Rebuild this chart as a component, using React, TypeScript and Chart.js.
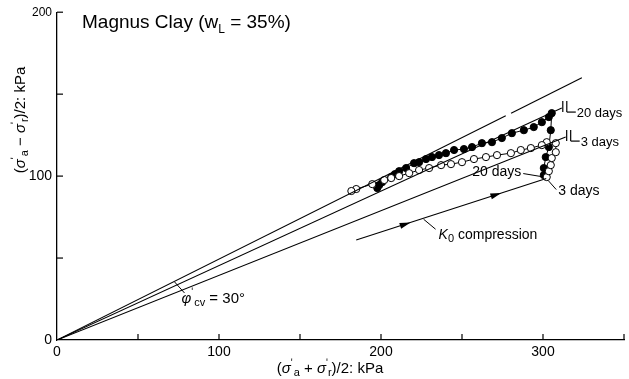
import { useEffect, useRef } from 'react';
import { Chart, registerables } from 'chart.js';
Chart.register(...registerables);

// ---- axis ticks ----
const X_TICKS = [0, 50, 100, 150, 200, 250, 300, 350];
const X_LABELED = [0, 100, 200, 300];
const Y_TICKS = [0, 50, 100, 150, 200];
const Y_LABELED = [0, 100, 200];

// ---- reference lines (s' , t) in kPa ----
const phiLine1S = [0, 277];
const phiLine1T = [0, 136.8];
const phiLine2S = [280.3, 324];
const phiLine2T = [138.4, 160];
const line20S = [0, 311.6];
const line20T = [0, 141.5];
const line3S = [0, 314];
const line3T = [0, 123.8];
const k0S = [184.7, 302];
const k0T = [61, 98.5];

// ---- stress paths ----
const days20S = [300.5, 300.5, 301.7, 303.6, 304.8, 305.4, 303.6, 299.3, 294.3, 288.2, 280.8, 274.6, 268.5, 262.3, 256.2, 251.2, 245.1, 240.1, 235.8, 231.5, 227.8, 223.5, 220.4, 215.5, 211.2, 208.6, 206.3, 200.7, 198.9, 197.7];
const days20T = [100.6, 104.9, 111.6, 117.7, 128.0, 138.4, 136.0, 132.9, 129.9, 128.0, 126.2, 123.2, 120.7, 120.1, 117.7, 116.5, 115.9, 114.0, 112.8, 111.6, 110.4, 108.5, 107.9, 104.9, 103.0, 101.2, 99.4, 96.3, 94.5, 92.7];
const days3S = [302.3, 303.6, 304.8, 305.4, 307.9, 307.9, 302.3, 299.3, 292.5, 286.3, 280.2, 271.6, 264.8, 257.4, 250.0, 243.2, 237.1, 229.7, 223.5, 217.4, 211.2, 206.3, 202.0, 194.6, 184.7, 181.7];
const days3T = [99.4, 103.0, 106.7, 111.0, 114.6, 120.1, 120.7, 118.9, 117.1, 115.9, 114.0, 112.8, 111.6, 110.4, 108.5, 107.3, 106.7, 104.9, 103.7, 101.8, 100.0, 98.8, 97.6, 95.1, 92.1, 90.9];

// ---- annotation anchors (data units) ----
const phiTickS = [72.6, 78.7];
const phiTickT = [35.4, 28.7];
const k0ArrowS = [218.3, 274.3];
const k0LabelS = 226.3;

const FONT = '"Liberation Sans", Arial, Helvetica, sans-serif';

const pts = (xs: number[], ys: number[]) => xs.map((x, i) => ({ x, y: ys[i] }));

type Seg = { t: string; size: number; dy?: number; dx?: number; italic?: boolean };

function drawRich(ctx: CanvasRenderingContext2D, segs: Seg[], x: number, y: number, align: 'left' | 'center' | 'right') {
  const fontOf = (s: Seg) => `${s.italic ? 'italic ' : ''}${s.size}px ${FONT}`;
  let w = 0;
  segs.forEach((s) => {
    ctx.font = fontOf(s);
    w += ctx.measureText(s.t).width + (s.dx || 0);
  });
  let cx = align === 'center' ? x - w / 2 : align === 'right' ? x - w : x;
  ctx.textAlign = 'left';
  ctx.textBaseline = 'alphabetic';
  segs.forEach((s) => {
    ctx.font = fontOf(s);
    cx += s.dx || 0;
    ctx.fillText(s.t, cx, y + (s.dy || 0));
    cx += ctx.measureText(s.t).width;
  });
}

const axisTitle = (op: string): Seg[] => [
  { t: '(', size: 15 },
  { t: 'σ', size: 15, italic: true },
  { t: 'ʹ', size: 10, dy: -7 },
  { t: 'a', size: 11, dy: 3, dx: 1 },
  { t: ` ${op} `, size: 15 },
  { t: 'σ', size: 15, italic: true },
  { t: 'ʹ', size: 10, dy: -7 },
  { t: 'r', size: 11, dy: 3 },
  { t: ')/2: kPa', size: 15 },
];

const annotPlugin = {
  id: 'annot',
  afterDraw(chart: any) {
    const { ctx, chartArea: a, scales } = chart;
    const X = (v: number) => scales.x.getPixelForValue(v);
    const Y = (v: number) => scales.y.getPixelForValue(v);
    const seg = (x1: number, y1: number, x2: number, y2: number) => {
      ctx.beginPath();
      ctx.moveTo(x1, y1);
      ctx.lineTo(x2, y2);
      ctx.stroke();
    };
    ctx.save();
    ctx.strokeStyle = '#000';
    ctx.fillStyle = '#000';
    ctx.lineWidth = 1.2;

    // inward ticks
    X_TICKS.forEach((v) => {
      if (v !== 0) seg(X(v), a.bottom, X(v), a.bottom - 6);
    });
    Y_TICKS.forEach((v) => {
      if (v !== 0) seg(a.left, Y(v), a.left + 6, Y(v));
    });

    // title
    drawRich(ctx, [
      { t: 'Magnus Clay (w', size: 19 },
      { t: 'L', size: 12, dy: 5 },
      { t: ' = 35%)', size: 19 },
    ], a.left + 25, 28, 'left');

    // axis titles
    drawRich(ctx, axisTitle('+'), 330, 373, 'center');

    ctx.save();
    ctx.translate(25, 120);
    ctx.rotate(-Math.PI / 2);
    drawRich(ctx, axisTitle('−'), 0, 0, 'center');
    ctx.restore();

    // break marks + labels at ends of the two lines
    const breakMark = (s: number, t: number, label: string) => {
      const px = X(s);
      const py = Y(t);
      seg(px + 1, py - 7, px + 1, py + 4);
      seg(px + 5, py - 7, px + 5, py + 4);
      seg(px + 5, py + 4, px + 14, py + 4);
      ctx.font = `13px ${FONT}`;
      ctx.textAlign = 'left';
      ctx.textBaseline = 'middle';
      ctx.fillText(label, px + 15, py + 5);
    };
    breakMark(line20S[1], line20T[1], '20 days');
    breakMark(line3S[1], line3T[1], '3 days');

    // labels at start of undrained paths
    const ex = X(k0S[1]);
    const ey = Y(k0T[1]);
    ctx.lineWidth = 1;
    seg(ex - 23, ey - 5, ex - 5, ey - 2);
    seg(ex + 2, ey + 2, ex + 10, ey + 11);
    ctx.font = `14px ${FONT}`;
    ctx.textBaseline = 'middle';
    ctx.textAlign = 'right';
    ctx.fillText('20 days', ex - 25, ey - 6);
    ctx.textAlign = 'left';
    ctx.fillText('3 days', ex + 12, ey + 13);

    // K0 arrows
    const dirX = X(k0S[1]) - X(k0S[0]);
    const dirY = Y(k0T[1]) - Y(k0T[0]);
    const len = Math.hypot(dirX, dirY);
    const ux = dirX / len, uy = dirY / len;
    const k0At = (s: number) => k0T[0] + ((s - k0S[0]) * (k0T[1] - k0T[0])) / (k0S[1] - k0S[0]);
    k0ArrowS.forEach((s) => {
      const tx = X(s), ty = Y(k0At(s));
      ctx.beginPath();
      ctx.moveTo(tx, ty);
      ctx.lineTo(tx - ux * 11 - uy * 3, ty - uy * 11 + ux * 3);
      ctx.lineTo(tx - ux * 11 + uy * 3, ty - uy * 11 - ux * 3);
      ctx.closePath();
      ctx.fill();
    });
    const lx = X(k0LabelS), ly = Y(k0At(k0LabelS));
    seg(lx, ly + 1, lx + 12, ly + 11);
    drawRich(ctx, [
      { t: 'K', size: 14, italic: true },
      { t: '0', size: 11, dy: 3 },
      { t: ' compression', size: 14 },
    ], lx + 15, ly + 21, 'left');

    // phi'cv tick + label
    seg(X(phiTickS[0]), Y(phiTickT[0]), X(phiTickS[1]), Y(phiTickT[1]));
    drawRich(ctx, [
      { t: 'φ', size: 15, italic: true },
      { t: 'ʹ', size: 10, dy: -8 },
      { t: 'cv', size: 11, dy: 3, dx: 1 },
      { t: ' = 30°', size: 15 },
    ], X(phiTickS[1]) - 3, Y(phiTickT[1]) + 10, 'left');

    ctx.restore();
  },
};

export default function App() {
  const ref = useRef<HTMLCanvasElement>(null);
  useEffect(() => {
    document.body.style.margin = '0';
    const lineDs = (xs: number[], ys: number[]) => ({
      data: pts(xs, ys),
      showLine: true,
      borderColor: '#000',
      borderWidth: 1.1,
      pointRadius: 0,
      fill: false,
    });
    const chart = new Chart(ref.current as HTMLCanvasElement, {
      type: 'scatter',
      data: {
        datasets: [
          lineDs(phiLine1S, phiLine1T),
          lineDs(phiLine2S, phiLine2T),
          lineDs(line20S, line20T),
          lineDs(line3S, line3T),
          lineDs(k0S, k0T),
          {
            data: pts(days3S, days3T),
            showLine: true,
            borderColor: '#000',
            borderWidth: 1,
            pointRadius: 3.6,
            pointBackgroundColor: '#fff',
            pointBorderColor: '#000',
            pointBorderWidth: 1,
          },
          {
            data: pts(days20S, days20T),
            showLine: true,
            borderColor: '#000',
            borderWidth: 1,
            pointRadius: 3.6,
            pointBackgroundColor: '#000',
            pointBorderColor: '#000',
            pointBorderWidth: 1,
          },
        ] as any,
      },
      options: {
        animation: false,
        responsive: false,
        layout: { padding: { top: 12, right: 3, left: 0, bottom: 0 } },
        plugins: { legend: { display: false }, tooltip: { enabled: false } },
        scales: {
          x: {
            type: 'linear',
            min: 0,
            max: 350,
            afterFit: (s: any) => { s.height = 39; },
            afterBuildTicks: (s: any) => { s.ticks = X_TICKS.map((v) => ({ value: v })); },
            ticks: {
              color: '#000',
              padding: 4,
              maxRotation: 0,
              font: { size: 14, family: FONT },
              callback: (v: any) => (X_LABELED.includes(Number(v)) ? String(v) : ''),
            },
            grid: { display: false, drawTicks: false },
            border: { display: true, color: '#000', width: 1.3 },
          },
          y: {
            type: 'linear',
            min: 0,
            max: 200,
            afterFit: (s: any) => { s.width = 57; },
            afterBuildTicks: (s: any) => { s.ticks = Y_TICKS.map((v) => ({ value: v })); },
            ticks: {
              color: '#000',
              padding: 5,
              font: (c: any) => ({ size: c.tick && c.tick.value === 200 ? 12 : 14, family: FONT }),
              callback: (v: any) => (Y_LABELED.includes(Number(v)) ? String(v) : ''),
            },
            grid: { display: false, drawTicks: false },
            border: { display: true, color: '#000', width: 1.3 },
          },
        },
      },
      plugins: [annotPlugin],
    });
    return () => chart.destroy();
  }, []);
  return (
    <div style={{ position: 'absolute', left: 0, top: 0, width: 629, height: 379, background: '#fff' }}>
      <canvas ref={ref} width={629} height={379} />
    </div>
  );
}
